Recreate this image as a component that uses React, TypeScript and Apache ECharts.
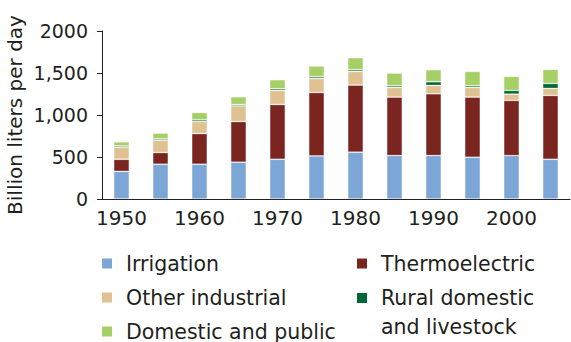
import React, { useEffect, useRef } from "react";
import * as echarts from "echarts";

const years = ["1950", "1955", "1960", "1965", "1970", "1975", "1980", "1985", "1990", "1995", "2000", "2005"];
const irrigation = [330, 414, 414, 438, 473, 513, 557, 517, 517, 497, 517, 473];
const thermoelectric = [143, 139, 365, 484, 652, 755, 799, 696, 736, 716, 656, 760];
const otherIndustrial = [144, 147, 143, 187, 167, 167, 163, 115, 99, 115, 76, 83];
const ruralDomestic = [15, 16, 20, 16, 20, 20, 20, 20, 44, 20, 43, 60];
const domesticPublic = [48, 68, 88, 92, 108, 128, 143, 151, 143, 171, 167, 167];
const yTickLabels = ["0", "500", "1,000", "1,500", "2000"];

const FONT = "DejaVu Sans";
const TEXT = "#231f20";

export default function App() {
  const ref = useRef<HTMLDivElement>(null);
  useEffect(() => {
    const chart = echarts.init(ref.current!, null, { renderer: "svg" });
    const border = { borderColor: "rgba(255,255,255,0.35)", borderWidth: 0.8 };
    const mk = (name: string, data: number[], color: string) => ({
      name,
      type: "bar",
      stack: "total",
      data,
      barWidth: "40%",
      itemStyle: { color, ...border },
    });
    const legendText = { fontFamily: FONT, fontSize: 20.5, color: TEXT };
    const squareIcon = "path://M0,0h10v10h-10z M18.9,9.9h0.1v0.1h-0.1z";
    const single = (name: string, left: number, top: number) => ({
      data: [name],
      left,
      top,
      padding: 0,
      itemWidth: 19,
      itemHeight: 10,
      icon: squareIcon,
      itemStyle: { borderWidth: 0 },
      textStyle: legendText,
    });
    chart.setOption({
      animation: false,
      grid: { left: 102, right: 1, top: 31, bottom: 143, outerBoundsMode: "none", containLabel: false },
      xAxis: {
        type: "category",
        data: years,
        axisLine: { lineStyle: { color: TEXT, width: 1 } },
        axisTick: { interval: 0, length: 5, lineStyle: { color: TEXT } },
        axisLabel: { interval: 1, color: TEXT, fontFamily: FONT, fontSize: 20, margin: 9 },
      },
      yAxis: {
        type: "value",
        min: 0,
        max: 2000,
        interval: 500,
        name: "Billion liters per day",
        nameLocation: "middle",
        nameGap: 77,
        nameMoveOverlap: false,
        nameTextStyle: { fontFamily: FONT, fontSize: 20, color: TEXT },
        axisLine: { show: true, lineStyle: { color: TEXT, width: 1 } },
        axisTick: { show: true, length: 5, lineStyle: { color: TEXT } },
        splitLine: { show: false },
        axisLabel: {
          color: TEXT,
          fontFamily: FONT,
          fontSize: 19,
          margin: 14,
          formatter: (v: number) => yTickLabels[Math.round(v / 500)],
        },
      },
      legend: [
        single("Irrigation", 102, 253),
        single("Other industrial", 102, 287),
        single("Domestic and public", 102, 321),
        single("Thermoelectric", 357, 253),
        {
          data: ["Rural domestic and livestock"],
          left: 357,
          top: 283,
          padding: 0,
          itemWidth: 19,
          itemHeight: 58,
          icon: "path://M0,0h0.1v0.1h-0.1z M0,10h10v10h-10z M18.9,57.9h0.1v0.1h-0.1z",
          itemStyle: { borderWidth: 0 },
          formatter: () => "Rural domestic\nand livestock",
          textStyle: { ...legendText, lineHeight: 29 },
        },
      ],
      series: [
        mk("Irrigation", irrigation, "#7ba6d6"),
        mk("Thermoelectric", thermoelectric, "#7b2521"),
        mk("Other industrial", otherIndustrial, "#e0c292"),
        mk("Rural domestic and livestock", ruralDomestic, "#006837"),
        mk("Domestic and public", domesticPublic, "#a6d066"),
      ],
    });
    return () => chart.dispose();
  }, []);
  return (
    <div
      ref={ref}
      style={{ position: "absolute", left: 0, top: 0, width: 571, height: 342, background: "#fff" }}
    />
  );
}
